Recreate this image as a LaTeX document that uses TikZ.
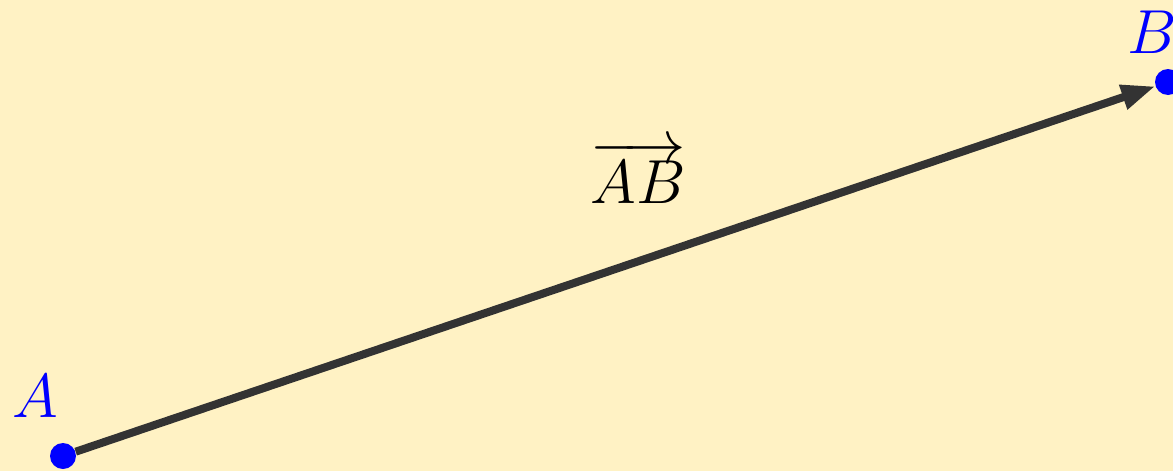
\documentclass[tikz,border=0pt]{standalone}
\usepackage{graphicx}
\usetikzlibrary{arrows.meta}
\definecolor{bgc}{HTML}{FFF2C4}
\definecolor{ptc}{HTML}{0000FF}
\definecolor{vecc}{HTML}{333333}
\newcommand{\biglbl}[1]{\scalebox{1.25}{#1}}
\tikzset{
  pt/.style={circle,fill=ptc,inner sep=0pt,minimum size=13pt},
  lbl/.style={text=ptc,inner sep=0pt,font=\fontsize{24.88}{30}\selectfont},
  vecline/.style={draw=vecc,line width=4pt,-{Triangle[length=17pt,width=12pt]}},
}
\begin{document}
\begin{tikzpicture}[x=0.5pt,y=-0.5pt]
\fill[bgc] (0,0) rectangle (1173,471);
\useasboundingbox (0,0) rectangle (1173,471);
\node[pt] (A) at (63,456) {};
\node[pt] (B) at (1168,82) {};
\draw[vecline] (A) -- (B);
\node[lbl] (la) at (35,396) {\biglbl{$A$}};
\node[lbl] (lb) at (1152,32) {\biglbl{$B$}};
\node[lbl,text=black] (lab) at (638,172) {\biglbl{$\overrightarrow{AB}$}};
\end{tikzpicture}
\end{document}
